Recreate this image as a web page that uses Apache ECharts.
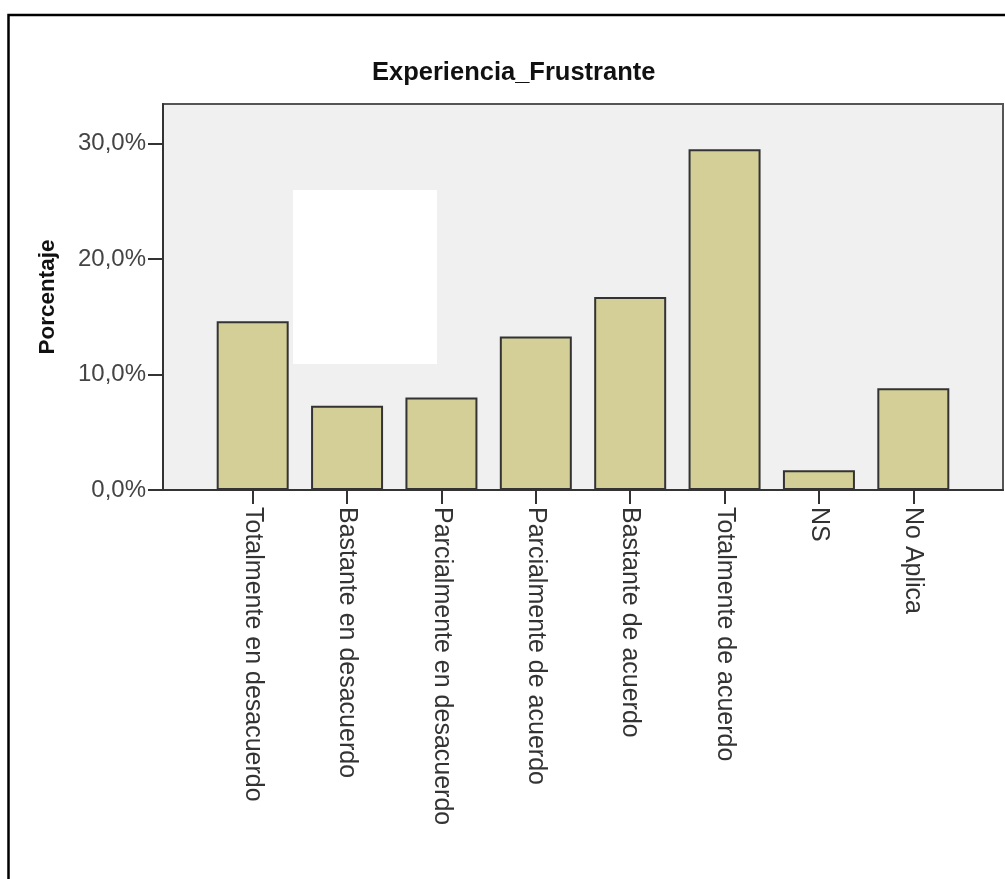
<!DOCTYPE html>
<html>
<head>
<meta charset="utf-8">
<script src="https://cdn.jsdelivr.net/npm/echarts@6/dist/echarts.min.js"></script>
<style>
html,body{margin:0;padding:0;background:#fff;}
#c{width:1005px;height:879px;}
</style>
</head>
<body>
<div id="c"></div>
<script>
const titleText = 'Experiencia_Frustrante';
const yName = 'Porcentaje';
const categories = ['Totalmente en desacuerdo','Bastante en desacuerdo','Parcialmente en desacuerdo','Parcialmente de acuerdo','Bastante de acuerdo','Totalmente de acuerdo','NS','No Aplica'];
const percentValues = [14.6, 7.3, 8.0, 13.3, 16.7, 29.5, 1.7, 8.8];
const yTicks = [0, 10, 20, 30];
const yMax = 33.42;

const FONT = '"Liberation Sans", Arial, sans-serif';
const chart = echarts.init(document.getElementById('c'), null, {renderer:'canvas'});
const fmt = v => v.toFixed(1).replace('.', ',') + '%';

chart.setOption({
  animation: false,
  backgroundColor: '#ffffff',
  title: {
    text: titleText, left: 372, top: 60, padding: 0,
    textStyle: {fontFamily: FONT, fontSize: 25.5, fontWeight: 'bold', color: '#111'}
  },
  graphic: [
    {type:'polyline', z: 10, shape:{points:[[8.5, 900],[8.5, 15],[1010, 15]]}, style:{stroke:'#000', lineWidth:2.5, fill:null}},
    {type:'rect', z: 1, shape:{x:293, y:190, width:144, height:174}, style:{fill:'#ffffff'}}
  ],
  grid: [
    {left:163, top:104, width:840, height:386, show:true, backgroundColor:'#f0f0f0', borderColor:'#555', borderWidth:2, z:0},
    {left:205.5, top:104, width:755, height:386}
  ],
  xAxis: [
    {type:'value', gridIndex:0, min:0, max:1, show:true, axisLine:{show:true, lineStyle:{color:'#333', width:2}}, axisTick:{show:false}, axisLabel:{show:false}, splitLine:{show:false}},
    {type:'category', gridIndex:1, data:categories,
     axisLine:{show:false},
     axisTick:{show:true, alignWithLabel:true, length:14, lineStyle:{color:'#333', width:2}},
     axisLabel:{rotate:-90, margin:17, fontFamily:FONT, fontSize:25, color:'#333', interval:0},
     splitLine:{show:false}}
  ],
  yAxis: [
    {type:'value', gridIndex:0, min:0, max:yMax, interval:10,
     name:yName, nameLocation:'middle', nameRotate:90, nameGap:104,
     nameTextStyle:{fontFamily:FONT, fontSize:22.5, fontWeight:'bold', color:'#111'},
     axisLine:{show:true, lineStyle:{color:'#333', width:2}},
     axisTick:{show:true, length:15, lineStyle:{color:'#333', width:2}, customValues:yTicks},
     axisLabel:{fontFamily:FONT, fontSize:24, color:'#444', margin:17, formatter:fmt, customValues:yTicks},
     splitLine:{show:false}},
    {type:'value', gridIndex:1, min:0, max:yMax, show:false, splitLine:{show:false}}
  ],
  series: [{
    type:'bar', xAxisIndex:1, yAxisIndex:1, data:percentValues, barWidth:72, z:3,
    itemStyle:{color:'#d3cf97', borderColor:'#333', borderWidth:2}
  }]
});
</script>
</body>
</html>
